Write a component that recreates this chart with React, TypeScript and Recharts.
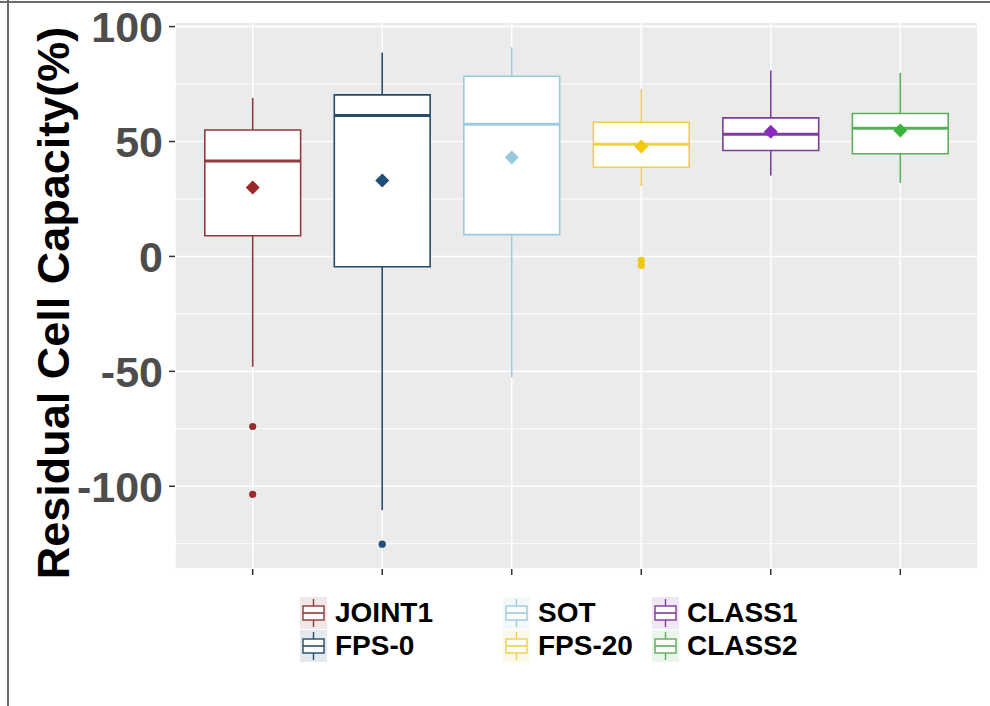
import React from 'react';
import { ComposedChart, XAxis, YAxis, CartesianGrid, ReferenceArea, ReferenceLine, Scatter } from 'recharts';

const CATEGORIES = ['JOINT1', 'FPS-0', 'SOT', 'FPS-20', 'CLASS1', 'CLASS2'];
const WHISKER_LOW = [-48, -110.4, -52.6, 30.6, 35.2, 32];
const Q1 = [9, -4.5, 9.5, 38.8, 46.1, 44.7];
const MEDIAN = [41.5, 61.3, 57.5, 48.8, 53.2, 55.8];
const Q3 = [55, 70.3, 78.4, 58.4, 60.3, 62.2];
const WHISKER_HIGH = [69, 88.7, 91, 72.9, 80.9, 79.9];
const MEANS = [30, 33, 43, 47.8, 54.3, 54.8];
const OUTLIERS = [[-74, -103.5], [-125.2], [], [-1.7, -3.9], [], []];

const Y_TICKS = [-100, -50, 0, 50, 100];
const MINOR_TICKS = [-125, -75, -25, 25, 75];
const X_TICKS = [1, 2, 3, 4, 5, 6];
const Y_DOMAIN = [-136, 102];

const COLORS = ['#8E3B3B', '#264B6A', '#9CCBDD', '#EDD147', '#7F3A9E', '#5BAE5B'];
const MEAN_COLORS = ['#9A2A2A', '#1F4E79', '#96C8DE', '#F0C90A', '#8A2BC0', '#3CB43C'];

const FONT = "'Liberation Sans', Arial, sans-serif";
const HALF = 0.37;

const meanData = CATEGORIES.map((name, i) => ({ x: i + 1, y: MEANS[i], idx: i }));
const outlierData = OUTLIERS.flatMap((vals, i) => vals.map((v) => ({ x: i + 1, y: v, idx: i })));

const Diamond = (props: any) => {
  const { cx, cy, payload } = props;
  const r = 7;
  return (
    <path
      d={`M${cx},${cy - r}L${cx + r},${cy}L${cx},${cy + r}L${cx - r},${cy}Z`}
      fill={MEAN_COLORS[payload.idx]}
    />
  );
};

const Dot = (props: any) => {
  const { cx, cy, payload } = props;
  return <circle cx={cx} cy={cy} r={3.6} fill={MEAN_COLORS[payload.idx]} />;
};

const LegendKey = ({ color }: { color: string }) => (
  <svg width={27} height={32} style={{ display: 'block' }}>
    <rect x={0} y={0} width={27} height={32} fill={color} fillOpacity={0.12} />
    <line x1={13.5} x2={13.5} y1={2} y2={30} stroke={color} strokeWidth={1.4} />
    <rect x={3} y={9} width={21} height={14} fill="#fcfcfc" stroke={color} strokeWidth={1.4} />
    <line x1={3} x2={24} y1={16} y2={16} stroke={color} strokeWidth={1.6} />
  </svg>
);

const App = () => {
  return (
    <div style={{ position: 'absolute', left: 0, top: 0, width: 990, height: 706, background: '#fff', fontFamily: FONT }}>
      <div style={{ position: 'absolute', left: 0, top: 1, width: 990, height: 2, background: '#6b6b6b' }} />
      <div style={{ position: 'absolute', left: 7, top: 0, width: 2, height: 706, background: '#6b6b6b' }} />
      <ComposedChart width={990} height={706} margin={{ top: 22, right: 12, bottom: 107, left: 0 }}>
        <CartesianGrid fill="#EBEBEB" stroke="#ffffff" strokeWidth={1.6} />
        <CartesianGrid yAxisId="minor" vertical={false} stroke="#ffffff" strokeWidth={1} />
        <XAxis
          type="number"
          dataKey="x"
          domain={[0.4, 6.6]}
          ticks={X_TICKS}
          allowDataOverflow
          axisLine={false}
          tickLine={{ stroke: '#333333', strokeWidth: 1.5 }}
          tickSize={6}
          tickFormatter={() => ''}
          height={30}
        />
        <YAxis yAxisId="minor" hide type="number" domain={Y_DOMAIN} ticks={MINOR_TICKS} allowDataOverflow />
        <YAxis
          type="number"
          dataKey="y"
          domain={Y_DOMAIN}
          ticks={Y_TICKS}
          allowDataOverflow
          width={175}
          axisLine={false}
          tickLine={{ stroke: '#333333', strokeWidth: 1.5 }}
          tickSize={6}
          tickMargin={6}
          tick={{ fill: '#4D4D4D', fontSize: 43, fontWeight: 'bold', fontFamily: FONT }}
          label={() => (
            <text
              x={69}
              y={303}
              transform="rotate(-90, 69, 303)"
              textAnchor="middle"
              fontSize={45}
              fontWeight="bold"
              fontFamily={FONT}
              fill="#000000"
            >
              Residual Cell Capacity(%)
            </text>
          )}
        />
        {CATEGORIES.map((name, i) => (
          <ReferenceLine
            key={`wl-${name}`}
            segment={[{ x: i + 1, y: WHISKER_LOW[i] }, { x: i + 1, y: Q1[i] }]}
            stroke={COLORS[i]}
            strokeWidth={1.6}
          />
        ))}
        {CATEGORIES.map((name, i) => (
          <ReferenceLine
            key={`wh-${name}`}
            segment={[{ x: i + 1, y: Q3[i] }, { x: i + 1, y: WHISKER_HIGH[i] }]}
            stroke={COLORS[i]}
            strokeWidth={1.6}
          />
        ))}
        {CATEGORIES.map((name, i) => (
          <ReferenceArea
            key={`box-${name}`}
            x1={i + 1 - HALF}
            x2={i + 1 + HALF}
            y1={Q1[i]}
            y2={Q3[i]}
            fill="#ffffff"
            fillOpacity={1}
            stroke={COLORS[i]}
            strokeWidth={1.6}
          />
        ))}
        {CATEGORIES.map((name, i) => (
          <ReferenceLine
            key={`med-${name}`}
            segment={[{ x: i + 1 - HALF, y: MEDIAN[i] }, { x: i + 1 + HALF, y: MEDIAN[i] }]}
            stroke={COLORS[i]}
            strokeWidth={3}
          />
        ))}
        <Scatter data={meanData} dataKey="y" shape={<Diamond />} isAnimationActive={false} />
        <Scatter data={outlierData} dataKey="y" shape={<Dot />} isAnimationActive={false} />
      </ComposedChart>
      <div
        style={{
          position: 'absolute',
          left: 300,
          top: 596,
          display: 'grid',
          gridAutoFlow: 'column',
          gridTemplateRows: '33px 33px',
          gridTemplateColumns: '203px 149px auto',
        }}
      >
        {CATEGORIES.map((name, i) => (
          <div key={name} style={{ display: 'flex', alignItems: 'center' }}>
            <LegendKey color={COLORS[i]} />
            <span style={{ marginLeft: 8, fontSize: 28, fontWeight: 'bold', color: '#000', lineHeight: '32px' }}>{name}</span>
          </div>
        ))}
      </div>
    </div>
  );
};

export default App;
